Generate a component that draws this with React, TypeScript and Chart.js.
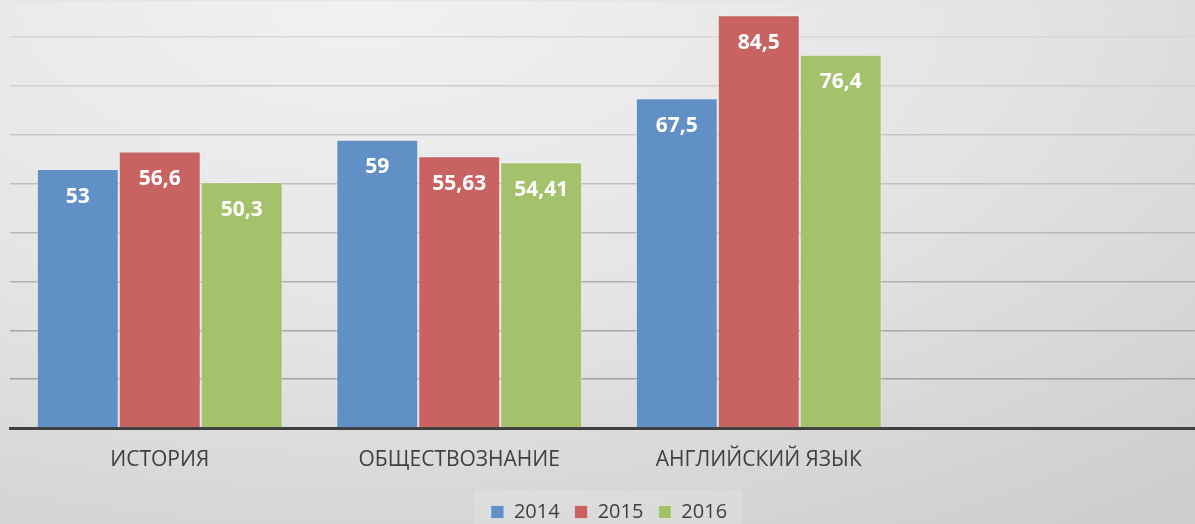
import React, { useEffect, useRef } from "react";
import { Chart, registerables } from "chart.js";

Chart.register(...registerables);

const categories = ["ИСТОРИЯ", "ОБЩЕСТВОЗНАНИЕ", "АНГЛИЙСКИЙ ЯЗЫК", ""];
const seriesNames = ["2014", "2015", "2016"];
const values2014 = [53, 59, 67.5, null];
const values2015 = [56.6, 55.63, 84.5, null];
const values2016 = [50.3, 54.41, 76.4, null];
const seriesColors = ["#6190c7", "#c86361", "#a3c26b"];
const yMin = 0;
const yMax = 87.6;
const yStep = 10;

const FONT = "'Open Sans', 'DejaVu Sans', sans-serif";

const dataLabelPlugin = {
  id: "dataLabelPlugin",
  afterDatasetsDraw(chart: any) {
    const ctx = chart.ctx;
    ctx.save();
    ctx.font = `bold 21px ${FONT}`;
    ctx.fillStyle = "#ffffff";
    ctx.textAlign = "center";
    ctx.textBaseline = "middle";
    chart.data.datasets.forEach((ds: any, di: number) => {
      const meta = chart.getDatasetMeta(di);
      meta.data.forEach((el: any, i: number) => {
        const v = ds.data[i];
        if (v === null || v === undefined) return;
        const txt = String(v).replace(".", ",");
        ctx.fillText(txt, el.x, el.y + 27.5);
      });
    });
    ctx.restore();
  },
};

const legendBoxPlugin = {
  id: "legendBoxPlugin",
  beforeDraw(chart: any) {
    const lg = chart.legend;
    if (!lg || !lg.legendHitBoxes || !lg.legendHitBoxes.length) return;
    const boxes = lg.legendHitBoxes;
    const first = boxes[0];
    const last = boxes[boxes.length - 1];
    const ctx = chart.ctx;
    ctx.save();
    ctx.fillStyle = "rgba(255,255,255,0.14)";
    ctx.fillRect(first.left - 17, first.top - 12, last.left + last.width - first.left + 32, 60);
    ctx.restore();
  },
};

export default function App() {
  const canvasRef = useRef<HTMLCanvasElement | null>(null);

  useEffect(() => {
    if (!canvasRef.current) return;
    const datasetsValues = [values2014, values2015, values2016];
    const chart = new Chart(canvasRef.current, {
      type: "bar",
      data: {
        labels: categories,
        datasets: datasetsValues.map((vals, i) => ({
          label: seriesNames[i],
          data: vals as any,
          backgroundColor: seriesColors[i],
          borderColor: "rgba(255,255,255,0.45)",
          borderWidth: 1,
          categoryPercentage: 0.821,
          barPercentage: 1.0,
        })),
      },
      options: {
        responsive: false,
        animation: false,
        devicePixelRatio: 1,
        layout: { padding: { left: 10, right: 0, top: 0, bottom: 0 } },
        plugins: {
          tooltip: { enabled: false },
          legend: {
            position: "bottom",
            labels: {
              boxWidth: 13,
              boxHeight: 13,
              padding: 15,
              color: "#404040",
              font: { family: FONT, size: 20 },
            },
          },
        },
        scales: {
          x: {
            grid: { display: false, drawTicks: false },
            border: { display: true, color: "#404040", width: 3 },
            ticks: {
              color: "#404040",
              font: { family: FONT, size: 21 },
              padding: 19,
              maxRotation: 0,
              autoSkip: false,
            },
            afterFit: (scale: any) => {
              scale.height = 59;
            },
          },
          y: {
            min: yMin,
            max: yMax,
            ticks: { display: false, stepSize: yStep },
            border: { display: false },
            grid: {
              drawTicks: false,
              lineWidth: 1.5,
              color: (c: any) => {
                const v = c.tick ? c.tick.value : 0;
                if (v <= 0) return "rgba(0,0,0,0)";
                const g = Math.round(160 + ((v - 10) / 70) * 55);
                return `rgb(${g},${g},${g})`;
              },
            },
            afterFit: (scale: any) => {
              scale.width = 0;
            },
          },
        },
      },
      plugins: [legendBoxPlugin, dataLabelPlugin],
    } as any);
    return () => chart.destroy();
  }, []);

  return (
    <div
      style={{
        position: "fixed",
        left: 0,
        top: 0,
        width: 1195,
        height: 524,
        overflow: "hidden",
        background:
          "radial-gradient(ellipse 120% 140% at 30% 0%, #f1f1f1 0%, #e4e4e4 45%, #cfcfcf 85%, #cbcbcb 100%)",
      }}
    >
      <canvas
        ref={canvasRef}
        width={1208}
        height={532}
        style={{ width: 1208, height: 532, display: "block" }}
      />
    </div>
  );
}
